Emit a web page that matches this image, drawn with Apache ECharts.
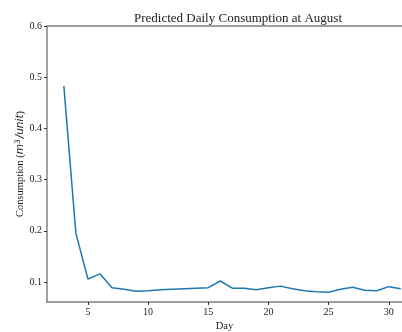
<!DOCTYPE html>
<html>
<head>
<meta charset="utf-8">
<script src="https://cdn.jsdelivr.net/npm/echarts@6/dist/echarts.min.js"></script>
<style>
  html, body { margin: 0; padding: 0; background: #fff; }
  #chart { width: 402px; height: 332px; }
</style>
</head>
<body>
<div id="chart"></div>
<script>
// Predicted daily consumption for August (days 3–31)
const days = [3, 4, 5, 6, 7, 8, 9, 10, 11, 12, 13, 14, 15, 16, 17, 18, 19, 20, 21, 22, 23, 24, 25, 26, 27, 28, 29, 30, 31];
const consumption = [0.483, 0.195, 0.106, 0.116, 0.089, 0.086, 0.082, 0.083, 0.085, 0.086, 0.087, 0.088, 0.089, 0.102, 0.088, 0.088, 0.085, 0.089, 0.092, 0.087, 0.083, 0.081, 0.080, 0.086, 0.090, 0.084, 0.083, 0.091, 0.087];
const xTicks = [5, 10, 15, 20, 25, 30];
const yTicks = [0.1, 0.2, 0.3, 0.4, 0.5, 0.6];

const serif = '"Liberation Serif", "DejaVu Serif", serif';
const axisGray = '#808080';
const textColor = '#222';

const chart = echarts.init(document.getElementById('chart'), null, { renderer: 'canvas' });

chart.setOption({
  animation: false,
  backgroundColor: '#fff',
  title: {
    text: 'Predicted Daily Consumption at August',
    left: 233,
    textAlign: 'center',
    top: 7,
    textStyle: { fontFamily: serif, fontSize: 13, fontWeight: 'normal', color: textColor }
  },
  grid: { left: 47, right: 0, top: 26, bottom: 30, containLabel: false, outerBoundsMode: 'none' },
  xAxis: [{
    type: 'value',
    min: 1.6,
    max: 31.1,
    name: 'Day',
    nameLocation: 'middle',
    nameGap: 19,
    nameMoveOverlap: false,
    nameTextStyle: { fontFamily: serif, fontSize: 10.5, color: textColor },
    axisLine: { show: true, lineStyle: { color: axisGray, width: 1.5 } },
    axisTick: { show: true, length: 3, customValues: xTicks, lineStyle: { color: '#333', width: 1 } },
    axisLabel: { customValues: xTicks, fontFamily: serif, fontSize: 10, color: textColor, margin: 5 },
    splitLine: { show: false }
  }, {
    type: 'value',
    position: 'top',
    min: 1.6,
    max: 31.1,
    axisLine: { show: true, onZero: false, lineStyle: { color: axisGray, width: 1.5 } },
    axisTick: { show: false },
    axisLabel: { show: false },
    splitLine: { show: false }
  }],
  yAxis: {
    type: 'value',
    min: 0.061,
    max: 0.6,
    name: '{a|Consumption (}{i|m}{s|3}{i|/unit}{a|)}',
    nameLocation: 'middle',
    nameGap: 20,
    nameMoveOverlap: false,
    nameRotate: 90,
    nameTextStyle: {
      rich: {
        a: { fontFamily: serif, fontSize: 10.5, color: textColor },
        i: { fontFamily: '"DejaVu Sans", sans-serif', fontStyle: 'italic', fontSize: 10.5, color: textColor },
        s: { fontFamily: '"DejaVu Sans", sans-serif', fontSize: 7.5, color: textColor, verticalAlign: 'top', padding: [0, 1, 5, 0] }
      }
    },
    axisLine: { show: true, onZero: false, lineStyle: { color: axisGray, width: 1.5 } },
    axisTick: { show: true, length: 3, customValues: yTicks, lineStyle: { color: '#333', width: 1 } },
    axisLabel: {
      customValues: yTicks,
      fontFamily: serif, fontSize: 10, color: textColor, margin: 5,
      formatter: v => v.toFixed(1)
    },
    splitLine: { show: false }
  },
  series: [{
    type: 'line',
    data: days.map((d, i) => [d, consumption[i]]),
    showSymbol: false,
    symbol: 'none',
    lineStyle: { color: '#1f77b4', width: 1.5 },
    clip: true
  }]
});
</script>
</body>
</html>
